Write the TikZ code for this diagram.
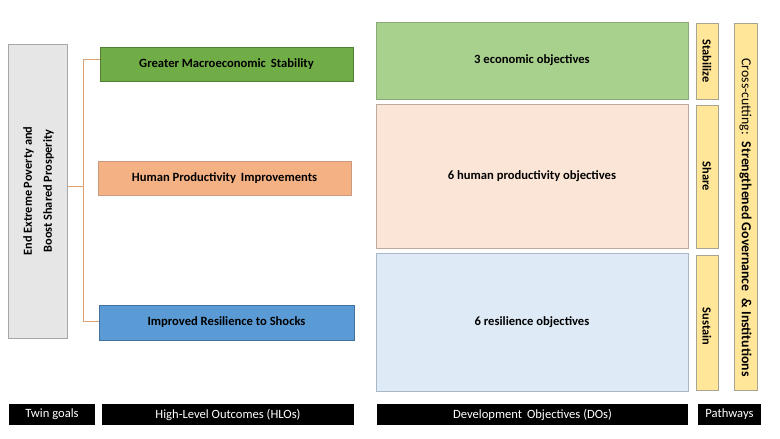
\documentclass[tikz,border=0pt]{standalone}
\usepackage{fontspec}
\setmainfont{Carlito}
\definecolor{twinfill}{HTML}{E7E6E6}
\definecolor{twinline}{HTML}{A6A6A6}
\definecolor{gfill}{HTML}{70AD47}
\definecolor{gline}{HTML}{507E32}
\definecolor{sfill}{HTML}{F4B183}
\definecolor{sline}{HTML}{C99A80}
\definecolor{bfill}{HTML}{5B9BD5}
\definecolor{bline}{HTML}{41719C}
\definecolor{lgfill}{HTML}{A9D18E}
\definecolor{lgline}{HTML}{8BA878}
\definecolor{lsfill}{HTML}{FBE5D6}
\definecolor{lsline}{HTML}{BFAAA0}
\definecolor{lbfill}{HTML}{DEEBF7}
\definecolor{lbline}{HTML}{A9B8C6}
\definecolor{yfill}{HTML}{FFE699}
\definecolor{yline}{HTML}{A9A48F}
\definecolor{conn}{HTML}{DDA070}
\tikzset{
  boxbase/.style={rectangle, inner sep=0pt, line width=0.8pt, font=\bfseries\fontsize{12.6}{14}\selectfont, text=black},
  twinbox/.style={boxbase, fill=twinfill, draw=twinline},
  hlo/.style={boxbase, minimum width=253pt, minimum height=34pt},
  dobox/.style={boxbase, minimum width=312pt},
  pathbox/.style={boxbase, fill=yfill, draw=yline, minimum width=22pt},
  pathtext/.style={rotate=-90, font=\bfseries\fontsize{12.4}{14}\selectfont},
  bar/.style={rectangle, fill=black, text=white, inner sep=0pt, minimum height=21pt, font=\fontsize{12.6}{14}\selectfont},
  connector/.style={draw=conn, line width=1pt}
}
\begin{document}
\begin{tikzpicture}[x=1pt,y=-1pt]
\useasboundingbox (0,0) rectangle (780,439);
% twin goals
\node[twinbox, minimum width=59pt, minimum height=294pt] (twin) at (37.5,191) {};
\node[rotate=90, align=center, font=\bfseries\fontsize{12.3}{20}\selectfont] (twintext) at ([xshift=1pt]twin.center) {End Extreme Poverty and\\Boost Shared Prosperity};
% HLOs
\node[hlo, fill=gfill, draw=gline] (hlo1) at (226.5,64) {Greater Macroeconomic\, Stability};
\node[hlo, fill=sfill, draw=sline] (hlo2) at (224.5,178) {Human Productivity\, Improvements};
\node[hlo, fill=bfill, draw=bline, minimum width=255pt, minimum height=35pt] (hlo3) at (226.5,322.5) {Improved Resilience to Shocks};
% connectors
\coordinate (jm) at (83.5,186.5);
\coordinate (jt) at (83.5,59.5);
\coordinate (jb) at (83.5,321.5);
\draw[connector] (twin.east |- jm) -- (jm);
\draw[connector] (hlo1.west |- jt) -- (jt) -- (jb) -- (hlo3.west |- jb);
% DOs
\node[dobox, fill=lgfill, draw=lgline, minimum height=77pt] (do1) at (532,60.5) {3 economic objectives};
\node[dobox, fill=lsfill, draw=lsline, minimum height=144pt] (do2) at (532,176) {6 human productivity objectives};
\node[dobox, fill=lbfill, draw=lbline, minimum height=138pt] (do3) at (532,322) {6 resilience objectives};
% pathways
\node[pathbox, minimum height=76pt] (p1) at (707,61) {};
\node[pathtext] (p1t) at (p1.center) {Stabilize};
\node[pathbox, minimum height=143pt] (p2) at (707,176.5) {};
\node[pathtext] (p2t) at (p2.center) {Share};
\node[pathbox, minimum height=135pt] (p3) at (707,322.5) {};
\node[pathtext] (p3t) at ([yshift=-4pt]p3.center) {Sustain};
\node[pathbox, minimum width=23pt, minimum height=367pt] (cc) at (745.5,206.5) {};
\node[rotate=-90, font=\fontsize{13.8}{15}\selectfont] (cct) at ([yshift=-11pt]cc.center) {Cross-cutting:\enspace\textbf{Strengthened Governance\enspace\&\ Institutions}};
% bottom bars
\node[bar, minimum width=86pt] (b1) at (52,414.5) {Twin goals};
\node[bar, minimum width=252pt] (b2) at (228,414.5) {High-Level Outcomes (HLOs)};
\node[bar, minimum width=311pt] (b3) at (532.5,414.5) {Development\, Objectives (DOs)};
\node[bar, minimum width=63pt] (b4) at (729.5,414.5) {Pathways};
\end{tikzpicture}
\end{document}
